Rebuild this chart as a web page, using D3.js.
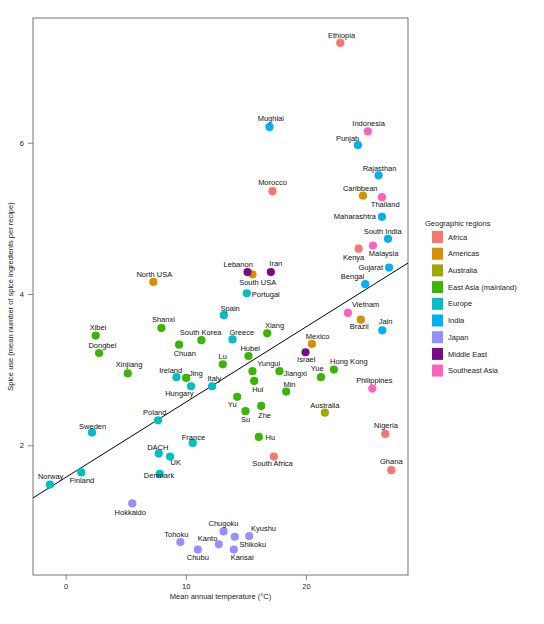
<!DOCTYPE html>
<html>
<head>
<meta charset="utf-8">
<script src="https://cdn.jsdelivr.net/npm/d3@7"></script>
<style>
  html, body { margin: 0; padding: 0; background: #fff; }
  svg { display: block; font-family: "Liberation Sans", Arial, Helvetica, sans-serif; }
</style>
</head>
<body>
<svg id="chart" width="544" height="624"></svg>
<script>
// ---------- DATA ----------
const regions = ["Africa", "Americas", "Australia", "East Asia (mainland)", "Europe", "India", "Japan", "Middle East", "Southeast Asia"];
const regionColors = ["#F8766D", "#D89000", "#A3A500", "#39B600", "#00BFC4", "#00B0F6", "#9590FF", "#7B0A87", "#FF62BC"];

const cuisines = ["Ethiopia","Mughlai","Indonesia","Punjab","Rajasthan","Morocco","Caribbean","Thailand","Maharashtra","South India",
  "Malaysia","Kenya","Gujarat","Bengal","South USA","Lebanon","Iran","North USA","Portugal",
  "Spain","Vietnam","Brazil","Jain","Xibei","Shanxi","South Korea","Chuan","Greece","Xiang","Mexico","Israel","Dongbei","Hubei","Lu",
  "Xinjiang","Ireland","Jing","Hungary","Italy","Yungui","Hui","Jiangxi","Yue","Hong Kong","Min","Philippines","Yu","Su","Zhe",
  "Australia","Poland","Sweden","Nigeria","Hu","France","DACH","UK","South Africa","Ghana","Finland","Denmark","Norway",
  "Hokkaido","Chugoku","Kyushu","Shikoku","Tohoku","Kanto","Chubu","Kansai"];

const cuisineRegion = ["Africa","India","Southeast Asia","India","India","Africa","Americas","Southeast Asia","India","India",
  "Southeast Asia","Africa","India","India","Americas","Middle East","Middle East","Americas","Europe",
  "Europe","Southeast Asia","Americas","India","East Asia (mainland)","East Asia (mainland)","East Asia (mainland)","East Asia (mainland)","Europe","East Asia (mainland)","Americas","Middle East","East Asia (mainland)","East Asia (mainland)","East Asia (mainland)",
  "East Asia (mainland)","Europe","East Asia (mainland)","Europe","Europe","East Asia (mainland)","East Asia (mainland)","East Asia (mainland)","East Asia (mainland)","East Asia (mainland)","East Asia (mainland)","Southeast Asia","East Asia (mainland)","East Asia (mainland)","East Asia (mainland)",
  "Australia","Europe","Europe","Africa","East Asia (mainland)","Europe","Europe","Europe","Africa","Africa","Europe","Europe","Europe",
  "Japan","Japan","Japan","Japan","Japan","Japan","Japan","Japan"];

// mean annual temperature (°C)
const temperature = [22.86,16.97,25.16,24.33,26.05,17.22,24.75,26.33,26.33,26.83,
  25.58,24.39,26.92,24.94,15.55,15.14,17.08,7.30,15.08,
  13.17,23.50,24.58,26.36,2.50,7.97,11.30,9.44,13.89,16.78,20.50,19.97,2.78,15.22,13.08,
  5.17,9.22,10.03,10.44,12.19,15.55,15.69,17.80,21.25,22.33,18.36,25.53,14.28,14.97,16.28,
  21.58,7.69,2.19,26.61,16.08,10.58,7.75,8.69,17.33,27.11,1.30,7.83,-1.31,
  5.54,13.14,15.28,14.08,9.55,12.75,11.00,14.00];

// spice use (mean number of spice ingredients per recipe)
const spiceUse = [7.32,6.21,6.15,5.97,5.57,5.36,5.30,5.28,5.02,4.73,
  4.64,4.60,4.35,4.13,4.26,4.29,4.29,4.16,4.01,
  3.72,3.75,3.66,3.52,3.45,3.55,3.39,3.33,3.40,3.48,3.34,3.23,3.22,3.18,3.07,
  2.95,2.90,2.89,2.78,2.78,2.98,2.85,2.98,2.90,3.00,2.71,2.75,2.64,2.45,2.52,
  2.43,2.33,2.17,2.15,2.11,2.03,1.89,1.85,1.85,1.67,1.64,1.62,1.48,
  1.23,0.86,0.80,0.79,0.72,0.69,0.62,0.62];

// fitted regression line: spice = intercept + slope * temperature
const regression = { intercept: 1.574, slope: 0.0995 };

const xTicks = [0, 10, 20];
const yTicks = [2, 4, 6];
const xLabel = "Mean annual temperature (°C)";
const yLabel = "Spice use (mean number of spice ingredients per recipe)";
const legendTitle = "Geographic regions";

// ---------- LAYOUT (label placement, px relative to point) ----------
const labelLayout = {
  "Ethiopia":[1.3,-7.7,"middle"], "Mughlai":[1.3,-8.3,"middle"], "Indonesia":[0.7,-8,"middle"], "Punjab":[-10.3,-7,"middle"],
  "Rajasthan":[1,-6.7,"middle"], "Morocco":[0,-8.3,"middle"], "Caribbean":[-2.7,-7.7,"middle"], "Thailand":[3.3,6.7,"middle"],
  "Maharashtra":[-6,0,"end"], "South India":[-5.3,-7.3,"middle"], "Malaysia":[10.7,8,"middle"], "Kenya":[-5,8.3,"middle"],
  "Gujarat":[-6,0,"end"], "Bengal":[-12.7,-7.7,"middle"], "Lebanon":[-9.3,-7.3,"middle"], "Iran":[5,-8.3,"middle"],
  "South USA":[5.3,8.3,"middle"], "North USA":[1,-8,"middle"], "Portugal":[5,1.3,"start"],
  "Spain":[6.3,-7.3,"middle"], "Vietnam":[4,-8.3,"start"], "Brazil":[-1.7,7,"middle"], "Jain":[3.3,-9.3,"middle"],
  "Xibei":[2.3,-8.7,"middle"], "Shanxi":[2,-8.3,"middle"], "South Korea":[-0.7,-8,"middle"], "Greece":[9.3,-7.3,"middle"],
  "Chuan":[5.7,8.7,"middle"], "Xiang":[7.3,-8.3,"middle"], "Mexico":[5.7,-7.7,"middle"], "Israel":[0.7,7.3,"middle"],
  "Dongbei":[3.3,-7.3,"middle"], "Hubei":[1.7,-7.3,"middle"], "Lu":[0,-8.3,"middle"], "Xinjiang":[1.3,-8.7,"middle"],
  "Ireland":[-5.7,-7,"middle"], "Jing":[9.7,-5,"middle"], "Hungary":[-11.7,6.7,"middle"], "Italy":[2.3,-7.7,"middle"],
  "Yungui":[16.3,-7.3,"middle"], "Jiangxi":[4,2.3,"start"], "Hui":[3.7,8,"middle"], "Yue":[-3.7,-9.3,"middle"],
  "Hong Kong":[15,-8.3,"middle"], "Min":[3.3,-7,"middle"], "Philippines":[2,-8.3,"middle"], "Yu":[-5,7.3,"middle"],
  "Su":[0,7.7,"middle"], "Zhe":[3.3,9.7,"middle"], "Australia":[0,-7.3,"middle"], "Poland":[-3.3,-7.7,"middle"],
  "Sweden":[0.7,-6.3,"middle"], "Nigeria":[0.7,-8.7,"middle"], "Hu":[6.7,0.3,"start"], "France":[0.7,-5.7,"middle"],
  "DACH":[-1,-6.3,"middle"], "UK":[5.7,6,"middle"], "South Africa":[-1.3,7,"middle"], "Ghana":[0,-9.3,"middle"],
  "Finland":[0.7,8,"middle"], "Denmark":[-0.7,1,"middle"], "Norway":[0.7,-8,"middle"], "Hokkaido":[-2,9.3,"middle"],
  "Chugoku":[0,-8.3,"middle"], "Kyushu":[14.3,-7.3,"middle"], "Shikoku":[18,7.3,"middle"], "Tohoku":[-4,-8,"middle"],
  "Kanto":[-11.3,-5.7,"middle"], "Chubu":[0,7.7,"middle"], "Kansai":[8.3,7.7,"middle"]
};

// ---------- DRAW ----------
const W = 544, H = 624;
const margin = { top: 18, right: 136, bottom: 49, left: 33 };
const pw = W - margin.left - margin.right;
const ph = H - margin.top - margin.bottom;

const svg = d3.select("#chart");
const g = svg.append("g").attr("transform", `translate(${margin.left},${margin.top})`);

const x = d3.scaleLinear().domain([-2.72, 28.5]).range([0, pw]);
const y = d3.scaleLinear().domain([0.284, 7.65]).range([ph, 0]);
const color = d3.scaleOrdinal().domain(regions).range(regionColors);

const data = cuisines.map((name, i) => ({ name, region: cuisineRegion[i], t: temperature[i], s: spiceUse[i] }));

// axes
const xAxis = g.append("g").attr("transform", `translate(0,${ph})`)
  .call(d3.axisBottom(x).tickValues(xTicks).tickSize(5).tickPadding(4).tickFormat(d3.format("d")));
const yAxis = g.append("g")
  .call(d3.axisLeft(y).tickValues(yTicks).tickSize(5).tickPadding(4).tickFormat(d3.format("d")));
[xAxis, yAxis].forEach(a => {
  a.select(".domain").remove();
  a.selectAll(".tick line").attr("stroke", "#666").attr("stroke-width", 0.8);
  a.selectAll(".tick text").attr("font-size", 7.5).attr("fill", "#222").attr("font-family", null);
});

// frame
g.append("rect").attr("x", 0).attr("y", 0).attr("width", pw).attr("height", ph)
  .attr("fill", "none").attr("stroke", "#666").attr("stroke-width", 0.9);

// regression line, clipped to the panel
svg.append("defs").append("clipPath").attr("id", "clip")
  .append("rect").attr("width", pw).attr("height", ph);
const [x0, x1] = x.domain();
g.append("line")
  .attr("clip-path", "url(#clip)")
  .attr("x1", x(x0)).attr("y1", y(regression.intercept + regression.slope * x0))
  .attr("x2", x(x1)).attr("y2", y(regression.intercept + regression.slope * x1))
  .attr("stroke", "#000").attr("stroke-width", 1);

// points
g.append("g").selectAll("circle").data(data).join("circle")
  .attr("cx", d => x(d.t)).attr("cy", d => y(d.s)).attr("r", 4.1)
  .attr("fill", d => color(d.region));

// labels
g.append("g").selectAll("text").data(data).join("text")
  .attr("x", d => x(d.t) + (labelLayout[d.name] || [0, -8])[0])
  .attr("y", d => y(d.s) + (labelLayout[d.name] || [0, -8])[1])
  .attr("dy", "0.35em")
  .attr("text-anchor", d => (labelLayout[d.name] || [0, 0, "middle"])[2])
  .attr("font-size", 7.5).attr("fill", "#111")
  .text(d => d.name);

// axis titles
svg.append("text").attr("x", margin.left + pw / 2).attr("y", 599)
  .attr("text-anchor", "middle").attr("font-size", 7.5).attr("fill", "#222").text(xLabel);
svg.append("text").attr("transform", `translate(13,${margin.top + ph / 2}) rotate(-90)`)
  .attr("text-anchor", "middle").attr("font-size", 7.5).attr("fill", "#222").text(yLabel);

// legend
const lg = svg.append("g").attr("transform", "translate(425,0)");
lg.append("text").attr("x", 0).attr("y", 226).attr("font-size", 7.5).attr("fill", "#222").text(legendTitle);
const rows = lg.selectAll("g.row").data(regions).join("g").attr("class", "row")
  .attr("transform", (d, i) => `translate(0,${237 + i * 16.7})`);
rows.append("rect").attr("x", 7).attr("y", -6).attr("width", 11).attr("height", 12)
  .attr("fill", d => color(d));
rows.append("text").attr("x", 23).attr("y", 0).attr("dy", "0.35em")
  .attr("font-size", 7.5).attr("fill", "#222").text(d => d);
</script>
</body>
</html>
